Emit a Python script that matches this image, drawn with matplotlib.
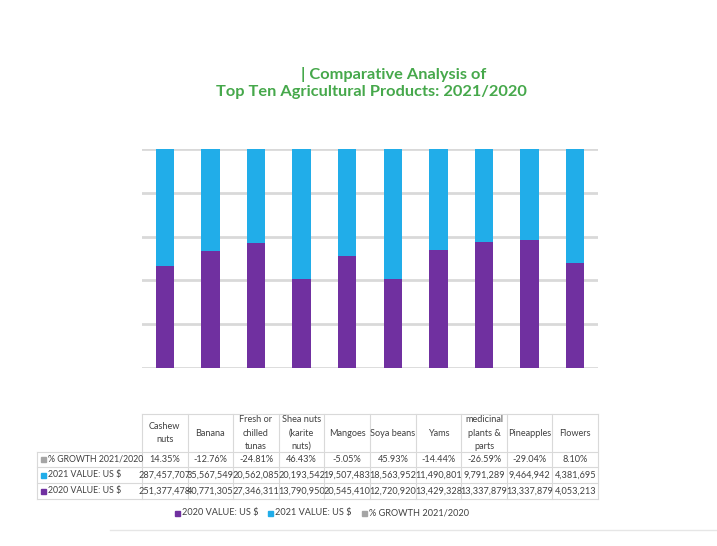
import matplotlib.pyplot as plt
from matplotlib.patches import Rectangle
import numpy as np

plt.rcParams['font.family'] = ['Lato', 'DejaVu Sans']

products = ["Cashew\nnuts", "Banana", "Fresh or\nchilled\ntunas", "Shea nuts\n(karite\nnuts)",
            "Mangoes", "Soya beans", "Yams", "medicinal\nplants &\nparts", "Pineapples", "Flowers"]
value_2021 = [287457707, 35567549, 20562085, 20193542, 19507483,
              18563952, 11490801, 9791289, 9464942, 4381695]
value_2020 = [251377478, 40771305, 27346311, 13790950, 20545410,
              12720920, 13429328, 13337879, 13337879, 4053213]
growth = [14.35, -12.76, -24.81, 46.43, -5.05, 45.93, -14.44, -26.59, -29.04, 8.10]

c2020 = '#7030A0'
c2021 = '#21ADE9'
cgrowth = '#A5A5A5'
green = '#46A84B'

W, H = 717, 546
fig = plt.figure(figsize=(W / 100, H / 100), dpi=100)

# plot area in pixels
x0, x1, ytop, ybot = 142, 598, 149, 368
ax = fig.add_axes([x0 / W, 1 - ybot / H, (x1 - x0) / W, (ybot - ytop) / H])

v20 = np.array(value_2020, dtype=float)
v21 = np.array(value_2021, dtype=float)
tot = v20 + v21
x = np.arange(len(products))
ax.bar(x, v20 / tot * 100, width=0.4, color=c2020, zorder=3)
ax.bar(x, v21 / tot * 100, bottom=v20 / tot * 100, width=0.4, color=c2021, zorder=3)
ax.set_xlim(-0.5, len(products) - 0.5)
ax.set_ylim(0, 100)
ax.set_yticks(np.arange(0, 101, 20))
ax.yaxis.grid(True, color='#D9D9D9', linewidth=2)
ax.tick_params(length=0, labelleft=False, labelbottom=False)
for s in ax.spines.values():
    s.set_visible(False)

# title
fig.text(394 / W, 1 - 74 / H, "| Comparative Analysis of", ha='center', va='center',
         fontsize=11.8, fontweight='bold', color=green)
fig.text(371 / W, 1 - 92 / H, "Top Ten Agricultural Products: 2021/2020", ha='center', va='center',
         fontsize=11.8, fontweight='bold', color=green)

# data table drawn in pixel coordinates
tb = fig.add_axes([0, 0, 1, 1])
tb.set_xlim(0, W)
tb.set_ylim(H, 0)
tb.axis('off')
lc = '#D9D9D9'
colw = (x1 - x0) / len(products)
lab_x0 = 37
rows_y = [414, 452, 467, 483, 499]
# horizontal lines
tb.plot([x0, x1], [rows_y[0]] * 2, color=lc, lw=0.8)
for yy in rows_y[1:]:
    tb.plot([lab_x0, x1], [yy] * 2, color=lc, lw=0.8)
# vertical lines
tb.plot([lab_x0, lab_x0], [rows_y[1], rows_y[-1]], color=lc, lw=0.8)
for i in range(len(products) + 1):
    xx = x0 + i * colw
    tb.plot([xx, xx], [rows_y[0], rows_y[-1]], color=lc, lw=0.8)

fs = 6.6
row_labels = ["% GROWTH 2021/2020", "2021 VALUE: US $", "2020 VALUE: US $"]
row_cols = [cgrowth, c2021, c2020]
for r, (lab, col) in enumerate(zip(row_labels, row_cols)):
    yc = (rows_y[r + 1] + rows_y[r + 2]) / 2
    tb.add_patch(Rectangle((lab_x0 + 4, yc - 2.5), 5, 5, color=col))
    tb.text(lab_x0 + 11, yc, lab, ha='left', va='center', fontsize=6.3, color='#404040')

for i, name in enumerate(products):
    xc = x0 + (i + 0.5) * colw
    tb.text(xc, (rows_y[0] + rows_y[1]) / 2, name, ha='center', va='center',
            fontsize=fs, color='#404040', linespacing=1.6)
    tb.text(xc, (rows_y[1] + rows_y[2]) / 2, f"{growth[i]:.2f}%", ha='center', va='center',
            fontsize=fs, color='#404040')
    tb.text(xc, (rows_y[2] + rows_y[3]) / 2, f"{value_2021[i]:,}", ha='center', va='center',
            fontsize=fs, color='#404040')
    tb.text(xc, (rows_y[3] + rows_y[4]) / 2, f"{value_2020[i]:,}", ha='center', va='center',
            fontsize=fs, color='#404040')

# legend
leg_items = [(175, "2020 VALUE: US $", c2020), (268, "2021 VALUE: US $", c2021),
             (362, "% GROWTH 2021/2020", cgrowth)]
for lx, lab, col in leg_items:
    tb.add_patch(Rectangle((lx, 510.5), 5, 5, color=col))
    tb.text(lx + 7, 513, lab, ha='left', va='center', fontsize=fs, color='#404040')

# bottom rule
tb.plot([110, W], [530, 530], color='#E6E6E6', lw=1)

fig.savefig('out.png', dpi=100)
